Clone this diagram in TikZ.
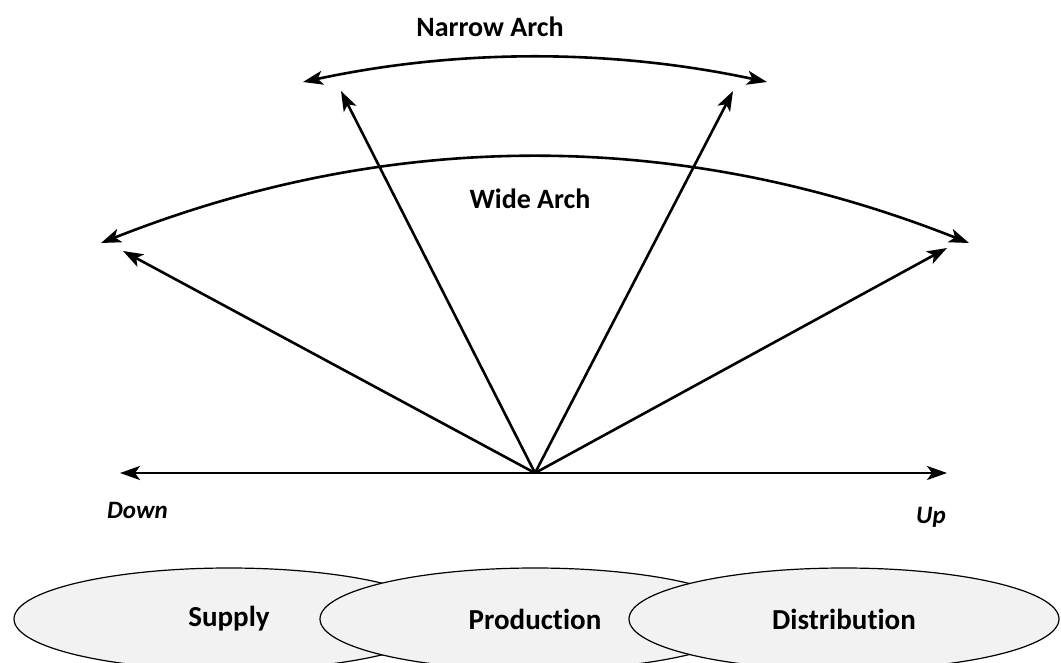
\documentclass[tikz,border=0pt]{standalone}
\usepackage{fontspec}
\setmainfont{Carlito}[Ligatures=NoCommon]
\usetikzlibrary{arrows.meta,shapes.geometric}
\begin{document}
\begin{tikzpicture}[x=1pt,y=-1pt,
  tip/.tip={Stealth[length=20pt,width=14pt,inset=5pt]},
  arr/.style={line width=2.6pt,-tip},
  darr/.style={line width=2.6pt,tip-tip},
  lbl/.style={font=\fontsize{28}{30}\selectfont\bfseries,inner sep=0pt},
  ilbl/.style={font=\fontsize{25}{27}\selectfont\bfseries\itshape,inner sep=0pt},
  oval/.style={ellipse,draw=black,line width=1.2pt,fill=gray!10,minimum width=430pt,minimum height=102pt,inner sep=0pt,font=\fontsize{29}{31}\selectfont\bfseries}]
\useasboundingbox (0,0) rectangle (1061,662);
% origin and arrow tips
\coordinate (O) at (535,473);
\coordinate (HL) at (120,473);
\coordinate (HR) at (947,473);
\coordinate (WL) at (123,251);
\coordinate (NL) at (341,91);
\coordinate (NR) at (733,91);
\coordinate (WR) at (947,248);
\coordinate (NAL) at (303,82);
\coordinate (NAR) at (767,82);
\coordinate (WAL) at (101,243);
\coordinate (WAR) at (969,243);
% fan
\draw[darr] (HL) -- (HR);
\draw[arr] (O) -- (WL);
\draw[arr] (O) -- (NL);
\draw[arr] (O) -- (NR);
\draw[arr] (O) -- (WR);
% arches
\draw[darr] (NAL) .. controls (458,48.7) and (612,48.7) .. (NAR);
\draw[darr] (WAL) .. controls (391,128.3) and (679,128.3) .. (WAR);
% labels
\node[lbl] (narrow) at (490,27) {Narrow Arch};
\node[lbl] (wide) at (530,199) {Wide Arch};
\node[ilbl,anchor=base west] (down) at (107,518) {Down};
\node[ilbl,anchor=base west] (up) at (916,523) {Up};
% ellipses
\node[oval] (supply) at (229,619) {Supply};
\node[oval] (production) at (535,619) {Production};
\node[oval] (distribution) at (844,619) {Distribution};
\end{tikzpicture}
\end{document}
